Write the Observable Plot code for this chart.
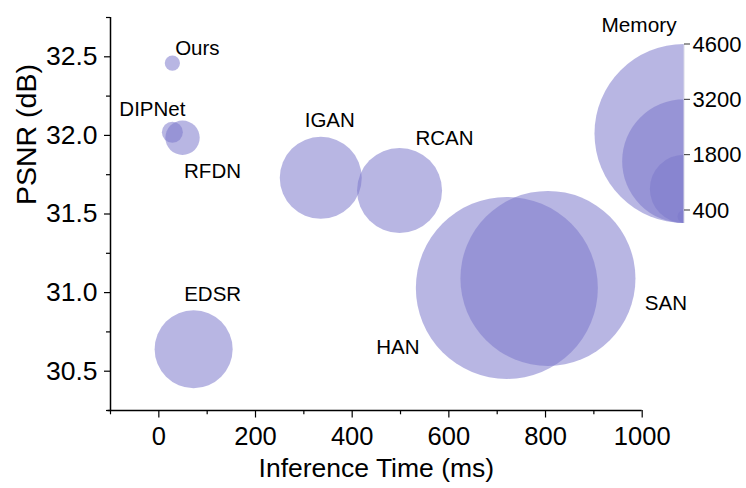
<!DOCTYPE html>
<html>
<head>
<meta charset="utf-8">
<script src="https://cdn.jsdelivr.net/npm/d3@7"></script>
<script src="https://cdn.jsdelivr.net/npm/@observablehq/plot@0.6"></script>
<style>
  html, body { margin: 0; padding: 0; background: #fff; }
  svg { font-family: "Liberation Sans", Arial, sans-serif; }
</style>
</head>
<body>
<div id="chart"></div>
<script>
// ---- data ----
const models  = ["Ours", "DIPNet", "RFDN", "IGAN", "RCAN", "EDSR", "HAN", "SAN"];
const timeMs  = [28, 28, 49, 335, 498, 72, 720, 805];
const psnrDb  = [32.46, 32.02, 31.985, 31.73, 31.65, 30.64, 31.03, 31.09];
const memory  = [456, 602, 940, 2146, 2222, 2045, 4676, 4500];
const xTicks  = [0, 200, 400, 600, 800, 1000];
const xMinor  = [-100, 100, 300, 500, 700, 900];
const yTicks  = [30.5, 31.0, 31.5, 32.0, 32.5];
const yMinor  = [30.25, 30.75, 31.25, 31.75, 32.25, 32.75];
const memTicks = [4600, 3200, 1800, 400];

const rows = models.map((m, i) => ({model: m, time: timeMs[i], psnr: psnrDb[i], mem: memory[i]}));

// label placement (pixels, relative to bubble centre)
const labelOffset = {
  Ours: [25, -15], DIPNet: [-20, -23], RFDN: [30, 34], IGAN: [9, -57],
  RCAN: [45, -52], EDSR: [19, -55], HAN: [-109, 60], SAN: [118, 25]
};

const fill = "#7b79cc";
const op = 0.54;
const blank = () => "";

const plot = Plot.plot({
  width: 746,
  height: 488,
  marginLeft: 110,
  marginRight: 104.3,
  marginTop: 17,
  marginBottom: 78,
  style: {fontFamily: "'Liberation Sans', Arial, sans-serif", overflow: "visible", background: "#fff"},
  x: {domain: [-100, 1000]},
  y: {domain: [30.25, 32.75]},
  r: {type: "linear", domain: [400, 4600], range: [6.5, 89.5]},
  marks: [
    Plot.dot(rows, {x: "time", y: "psnr", r: "mem", fill, fillOpacity: op, stroke: "none"}),
    ...rows.map(d => Plot.text([d], {
      x: "time", y: "psnr", text: "model",
      dx: labelOffset[d.model][0], dy: labelOffset[d.model][1],
      fontSize: 20.5, fill: "#000"
    })),
    Plot.axisX({ticks: xMinor, tickSize: 4.3, label: null, tickFormat: blank, stroke: "#000", strokeWidth: 1.2}),
    Plot.axisX({ticks: xTicks, tickSize: 7.5, tickPadding: 9, label: null, tickFormat: d3.format("d"), fontSize: 25.5, stroke: "#000", strokeWidth: 1.2, fill: "#000"}),
    Plot.axisY({ticks: yMinor, tickSize: 4, label: null, tickFormat: blank, stroke: "#000", strokeWidth: 1.2}),
    Plot.axisY({ticks: yTicks, tickSize: 6, tickPadding: 7, label: null, tickFormat: d3.format(".1f"), fontSize: 26.5, stroke: "#000", strokeWidth: 1.2, fill: "#000"}),
    Plot.ruleX([-100], {stroke: "#000", strokeWidth: 1.5}),
    Plot.ruleY([30.25], {stroke: "#000", strokeWidth: 1.5, x1: -105, x2: 1000}),
    Plot.text(["Inference Time (ms)"], {frameAnchor: "bottom", dy: 66, fontSize: 26.5, fill: "#000"}),
    Plot.text(["PSNR (dB)"], {frameAnchor: "left", rotate: -90, dx: -84, dy: -9, fontSize: 28.5, fill: "#000"})
  ]
});

document.getElementById("chart").appendChild(plot);

// ---- Memory size legend (half bubbles), radii from the plot's r scale ----
const rScale = plot.scale("r");
const svg = d3.select(plot);
const lx = 684, lBottom = 223;
const g = svg.append("g").attr("class", "mem-legend");
memTicks.slice().sort((a, b) => b - a).forEach(v => {
  const r = rScale.apply(v);
  const cy = lBottom - r;
  g.append("path")
    .attr("d", `M${lx},${cy - r}A${r},${r} 0 0 0 ${lx},${cy + r}Z`)
    .attr("fill", fill).attr("fill-opacity", op);
});
const topR = rScale.apply(d3.max(memTicks));
g.append("line").attr("x1", lx).attr("x2", lx).attr("y1", lBottom - 2 * topR).attr("y2", lBottom)
  .attr("stroke", "#d9d9e6").attr("stroke-width", 1);
memTicks.forEach(v => {
  const y = lBottom - 2 * rScale.apply(v);
  g.append("line").attr("x1", lx).attr("x2", lx + 6).attr("y1", y).attr("y2", y)
    .attr("stroke", "#333").attr("stroke-width", 1);
  g.append("text").attr("x", lx + 8.5).attr("y", y).attr("dy", "0.35em")
    .attr("text-anchor", "start")
    .attr("font-size", 22).attr("fill", "#000").text(v);
});
g.append("text").attr("x", 639).attr("y", 32).attr("text-anchor", "middle")
  .attr("font-size", 20.8).attr("fill", "#000").text("Memory");
</script>
</body>
</html>
